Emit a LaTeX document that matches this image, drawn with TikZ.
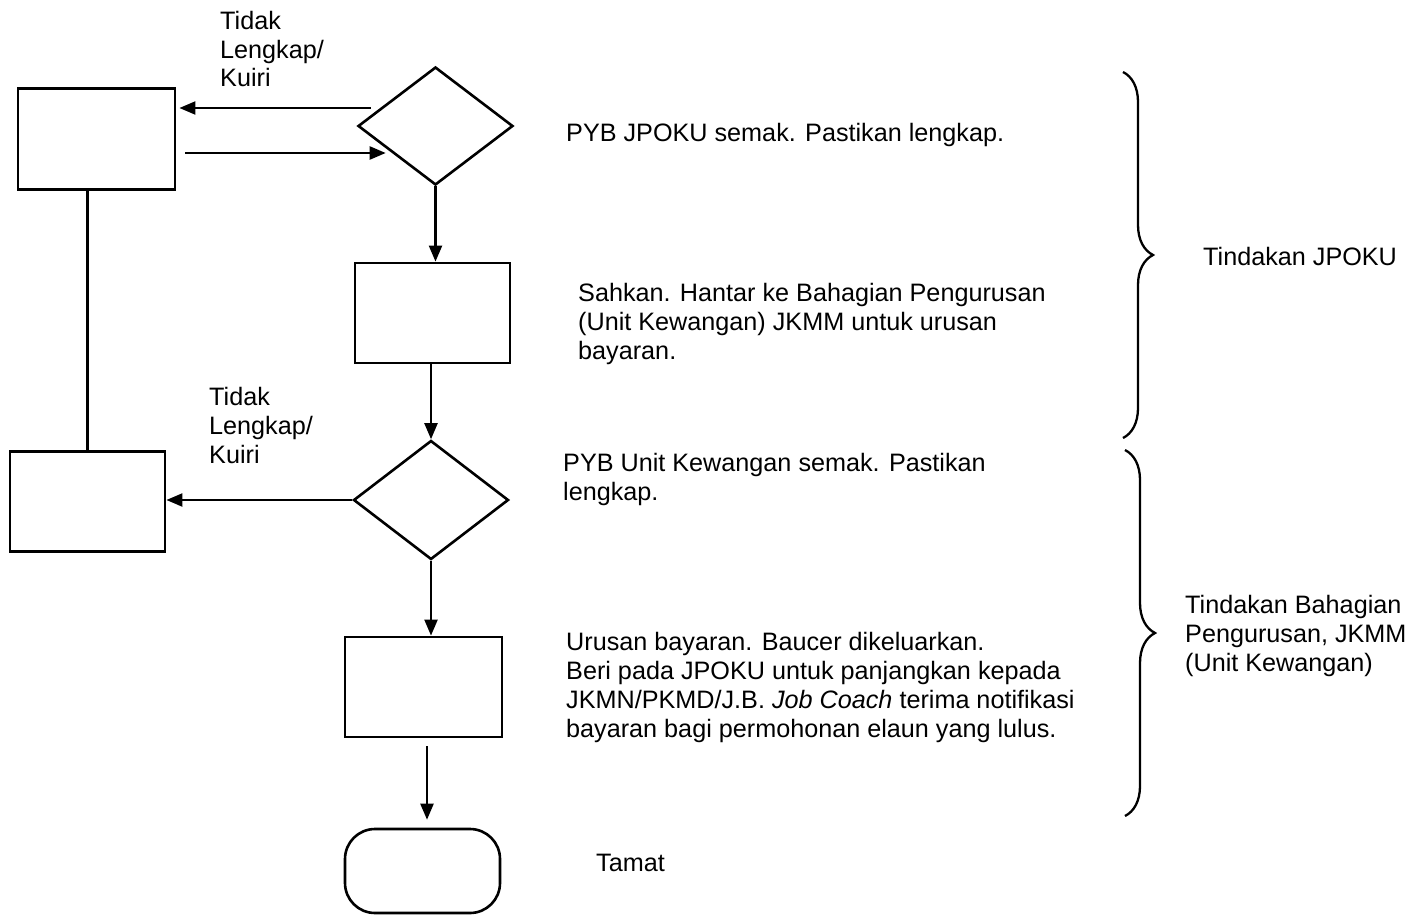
\documentclass[tikz,border=0pt]{standalone}
\usepackage{fontspec}
\setmainfont{Liberation Sans}
\usetikzlibrary{shapes.geometric,arrows.meta,decorations.pathreplacing}
\begin{document}
\begin{tikzpicture}[x=1pt,y=-1pt,
  every node/.style={font=\fontsize{25.2}{28.75}\selectfont},
  procbox/.style={draw,line width=2.8pt,rectangle,inner sep=0pt,minimum width=155pt,minimum height=100pt},
  decide/.style={draw,line width=2.6pt,diamond,inner sep=0pt,minimum width=155pt,minimum height=118pt},
  endbox/.style={draw,line width=2.6pt,rectangle,rounded corners=30pt,inner sep=0pt,minimum width=155pt,minimum height=84pt},
  arr/.style={line width=2.2pt,-{Triangle[length=16pt,width=13pt]}},
  plain/.style={line width=2.2pt},
  lbl/.style={anchor=base west,align=left,inner sep=0pt},
  brc/.style={line width=2.3pt,decorate,decoration={brace,amplitude=30pt}}
]
\useasboundingbox (0,0) rectangle (1426,915);

% shapes
\node[procbox,minimum width=157pt,minimum height=101pt] (A) at (96.5,139) {};
\node[decide] (D1) at (435.5,126) {};
\node[procbox] (B) at (432.5,313) {};
\node[decide,minimum height=119pt] (D2) at (431,500) {};
\node[procbox] (C) at (87.5,501.5) {};
\node[procbox,minimum width=157pt] (E) at (423.5,687) {};
\node[endbox] (T) at (422.5,871) {};

% connectors
\draw[arr] ([shift={(14,-18)}]D1.west) -- ([shift={(3,-31)}]A.east);
\draw[arr] ([shift={(9,14)}]A.east) -- ([shift={(29,27)}]D1.west);
\draw[plain] (C.north) -- (C.north |- A.south);
\draw[arr] (D1.south) -- (D1.south |- B.north);
\draw[arr] (B.south -| D2.north) -- (D2.north);
\draw[arr] (D2.west) -- (D2.west -| C.east);
\draw[arr] (D2.south) -- (D2.south |- E.north);
\draw[arr] ([shift={(3.5,8)}]E.south) -- ([shift={(4.5,-8)}]T.north);

% labels (anchor = baseline of last line)
\node[lbl] (t1) at (220,87) {Tidak\\Lengkap/\\Kuiri};
\node[lbl] (t2) at (209,463) {Tidak\\Lengkap/\\Kuiri};
\node[lbl] (s1) at (566,142) {PYB JPOKU semak. Pastikan lengkap.};
\node[lbl] (s2) at (578,359) {Sahkan. Hantar ke Bahagian Pengurusan\\(Unit Kewangan) JKMM untuk urusan\\bayaran.};
\node[lbl] (s3) at (563,500) {PYB Unit Kewangan semak. Pastikan\\lengkap.};
\node[lbl] (s4) at (566,737) {Urusan bayaran. Baucer dikeluarkan.\\Beri pada JPOKU untuk panjangkan kepada\\JKMN/PKMD/J.B. \textit{Job Coach} terima notifikasi\\bayaran bagi permohonan elaun yang lulus.};
\node[lbl] (s5) at (596,871) {Tamat};
\node[lbl] (g1) at (1203,265) {Tindakan JPOKU};
\node[lbl] (g2) at (1185,671) {Tindakan Bahagian\\Pengurusan, JKMM\\(Unit Kewangan)};

% braces
\coordinate (b1t) at (1123,72);
\coordinate (b1b) at (1123,438);
\coordinate (b2t) at (1125,450);
\coordinate (b2b) at (1125,816);
\draw[brc] (b1t) -- (b1b);
\draw[brc] (b2t) -- (b2b);
\end{tikzpicture}
\end{document}
